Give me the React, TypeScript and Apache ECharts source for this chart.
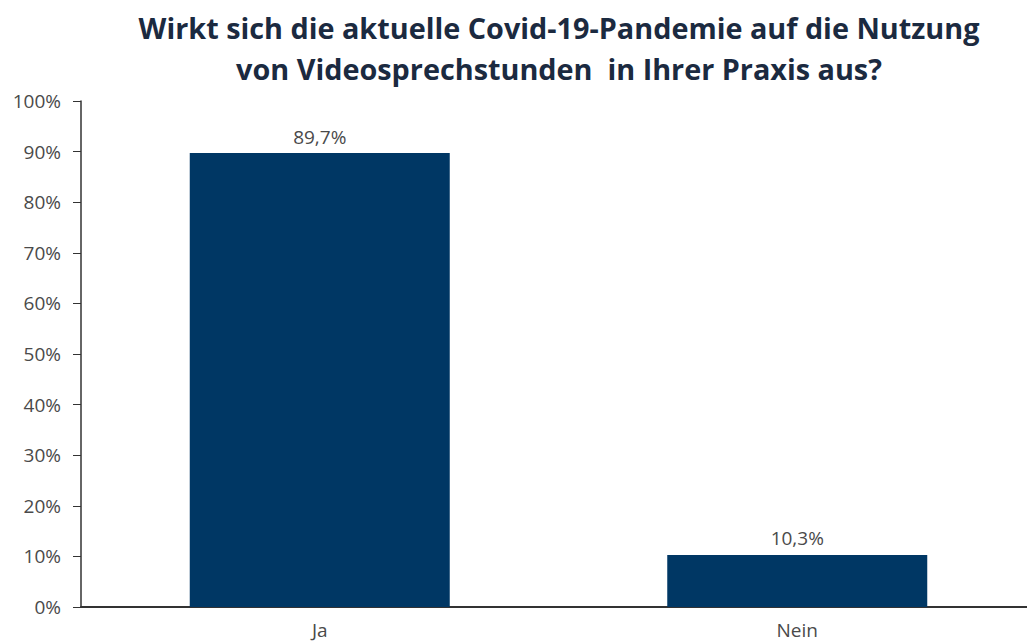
import React, { useEffect, useRef } from "react";
import * as echarts from "echarts";

const titleLines = [
  "Wirkt sich die aktuelle Covid-19-Pandemie auf die Nutzung",
  "von Videosprechstunden  in Ihrer Praxis aus?",
];
const categories = ["Ja", "Nein"];
const values = [89.7, 10.3];

export default function App() {
  const ref = useRef<HTMLDivElement>(null);
  useEffect(() => {
    document.body.style.margin = "0";
    document.body.style.overflow = "hidden";
    const chart = echarts.init(ref.current!, null, { renderer: "svg" });
    chart.setOption({
      animation: false,
      backgroundColor: "#ffffff",
      title: {
        text: titleLines.join("\n"),
        left: 554,
        textAlign: "center",
        top: 2,
        textStyle: {
          fontFamily: "Open Sans",
          fontWeight: "bold",
          fontSize: 28.8,
          lineHeight: 41,
          color: "#1b2a40",
        },
      },
      grid: { left: 81, right: 4, top: 101, bottom: 36 },
      xAxis: {
        type: "category",
        data: categories,
        axisLine: { lineStyle: { color: "#333", width: 2 } },
        axisTick: { show: false },
        axisLabel: {
          fontFamily: "Open Sans",
          fontSize: 19,
          color: "#4a4a4a",
          margin: 13,
        },
      },
      yAxis: {
        type: "value",
        min: 0,
        max: 100,
        interval: 10,
        splitLine: { show: false },
        axisLine: { show: true, lineStyle: { color: "#333", width: 1.5 } },
        axisTick: { show: true, length: 8, lineStyle: { color: "#333" } },
        axisLabel: {
          formatter: "{value}%",
          fontFamily: "Open Sans",
          fontSize: 19,
          color: "#4a4a4a",
          margin: 20,
        },
      },
      series: [
        {
          type: "bar",
          data: values,
          barWidth: 260,
          itemStyle: { color: "#003764" },
          label: {
            show: true,
            position: "top",
            distance: 7,
            fontFamily: "Open Sans",
            fontSize: 19,
            color: "#4a4a4a",
            formatter: (p: any) => p.value.toFixed(1).replace(".", ",") + "%",
          },
        },
      ],
    });
    return () => chart.dispose();
  }, []);
  return (
    <div
      ref={ref}
      style={{ position: "absolute", left: 0, top: 0, width: 1040, height: 643 }}
    />
  );
}
